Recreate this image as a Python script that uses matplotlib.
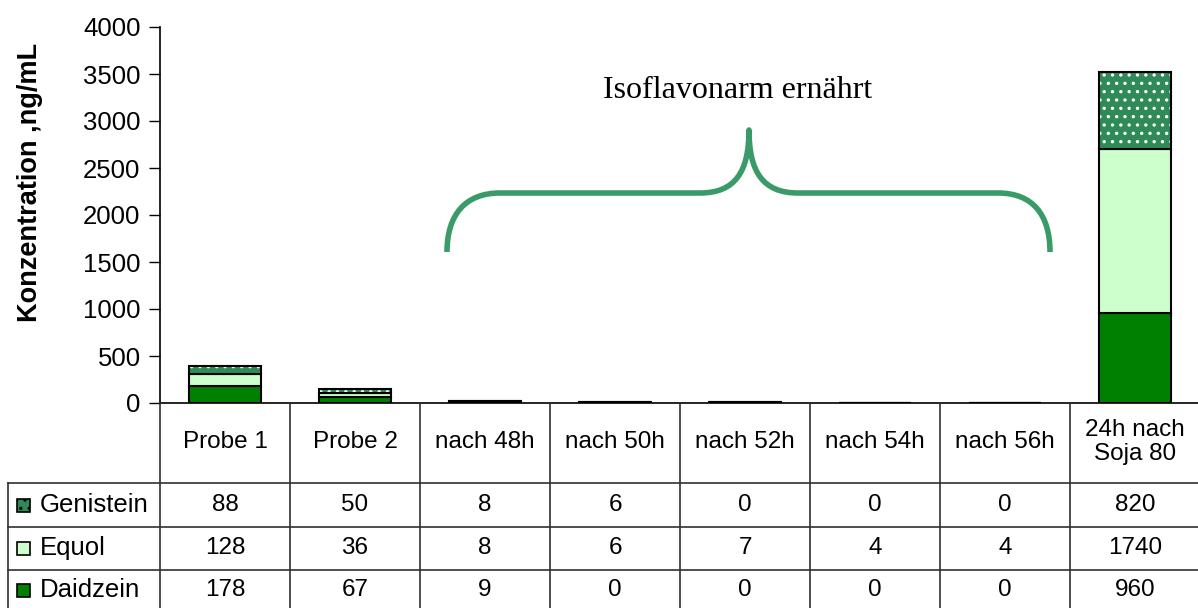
import numpy as np
import matplotlib.pyplot as plt
from matplotlib.path import Path
from matplotlib.patches import PathPatch, Rectangle

plt.rcParams['font.family'] = ['Liberation Sans', 'DejaVu Sans']
plt.rcParams['hatch.linewidth'] = 1.2

OUTPUT_IMG = "out.png"

# Measured concentrations per sample (ng/mL)
categories = ["Probe 1", "Probe 2", "nach 48h", "nach 50h", "nach 52h",
              "nach 54h", "nach 56h", "24h nach\nSoja 80"]
daidzein = [178, 67, 9, 0, 0, 0, 0, 960]
equol = [128, 36, 8, 6, 7, 4, 4, 1740]
genistein = [88, 50, 8, 6, 0, 0, 0, 820]

series_names = ["Genistein", "Equol", "Daidzein"]
series_values = [genistein, equol, daidzein]

C_DAID = "#008000"
C_EQUOL = "#ccffcc"
C_GEN = "#2e8b57"
C_BRACE = "#3a9b68"

W, H = 1198, 608
fig = plt.figure(figsize=(W / 100, H / 100), dpi=100)

# chart area in pixels
X0, X1 = 160, 1198
Y_TOP, Y_ZERO = 27, 403
COL = 130

ax = fig.add_axes([X0 / W, 1 - Y_ZERO / H, (X1 - X0) / W, (Y_ZERO - Y_TOP) / H])
x = np.arange(len(categories))
bw = 0.56
d = np.array(daidzein)
e = np.array(equol)
g = np.array(genistein)

ax.bar(x, d, bw, color=C_DAID, edgecolor="black", linewidth=1.5, zorder=3)
ax.bar(x, e, bw, bottom=d, color=C_EQUOL, edgecolor="black", linewidth=1.5, zorder=3)
# dotted genistein: white dots first, black outline on top
ax.bar(x, g, bw, bottom=d + e, color=C_GEN, edgecolor="white", linewidth=0,
       hatch="..", zorder=3)
ax.bar(x, g, bw, bottom=d + e, fill=False, edgecolor="black", linewidth=1.5, zorder=4)

ax.set_xlim(-0.5, len(categories) - 0.5 + (X1 - X0 - COL * len(categories)) / COL)
ax.set_ylim(0, 4000)
ax.set_yticks(np.arange(0, 4001, 500))
ax.set_xticks([])
ax.tick_params(axis="y", labelsize=18.5, length=8, width=1, pad=6)
for s in ["top", "right"]:
    ax.spines[s].set_visible(False)
ax.spines["left"].set_linewidth(1.2)
ax.spines["bottom"].set_linewidth(1.2)

fig.text(30 / W, 1 - 182 / H, "Konzentration ,ng/mL", rotation=90,
         fontsize=19.5, fontweight="bold", ha="center", va="center")

# overlay in pixel coordinates for the data table and the brace
ov = fig.add_axes([0, 0, 1, 1])
ov.set_xlim(0, W)
ov.set_ylim(H, 0)
ov.axis("off")

line_kw = dict(color="#303030", linewidth=1.2)
for k in range(len(categories)):
    xv = X0 + COL * k
    ov.plot([xv, xv], [Y_ZERO, H], **line_kw)
ov.plot([8, 8], [483, H], **line_kw)
for yv in [483, 527, 570]:
    ov.plot([8, X1], [yv, yv], **line_kw)

for i, cat in enumerate(categories):
    ov.text(X0 + COL * (i + 0.5), 442, cat, ha="center", va="center",
            fontsize=17.5, linespacing=1.15)

row_mid = [505, 548, 590]
fills = [C_GEN, C_EQUOL, C_DAID]
for r, (name, vals) in enumerate(zip(series_names, series_values)):
    ym = row_mid[r]
    ov.add_patch(Rectangle((17, ym - 6.5), 13, 13, facecolor=fills[r],
                           edgecolor="black", linewidth=1.2,
                           hatch=".." if name == "Genistein" else None))
    ov.text(40, ym, name, ha="left", va="center", fontsize=18.5)
    for i, v in enumerate(vals):
        ov.text(X0 + COL * (i + 0.5), ym, str(v), ha="center", va="center",
                fontsize=17.5)

# curly brace over the low-isoflavone days
verts = [(447, 252), (447, 215), (465, 193), (500, 193),
         (700, 193),
         (735, 193), (749, 172), (749, 130),
         (749, 172), (763, 193), (798, 193),
         (998, 193),
         (1033, 193), (1050, 215), (1050, 252)]
codes = [Path.MOVETO, Path.CURVE4, Path.CURVE4, Path.CURVE4,
         Path.LINETO,
         Path.CURVE4, Path.CURVE4, Path.CURVE4,
         Path.CURVE4, Path.CURVE4, Path.CURVE4,
         Path.LINETO,
         Path.CURVE4, Path.CURVE4, Path.CURVE4]
ov.add_patch(PathPatch(Path(verts, codes), fill=False, edgecolor=C_BRACE,
                       linewidth=4, capstyle="butt", joinstyle="round"))
ov.text(738, 90, "Isoflavonarm ernährt", ha="center", va="center",
        fontsize=23, family=["Liberation Serif", "DejaVu Serif"])

fig.savefig(OUTPUT_IMG, dpi=100)
